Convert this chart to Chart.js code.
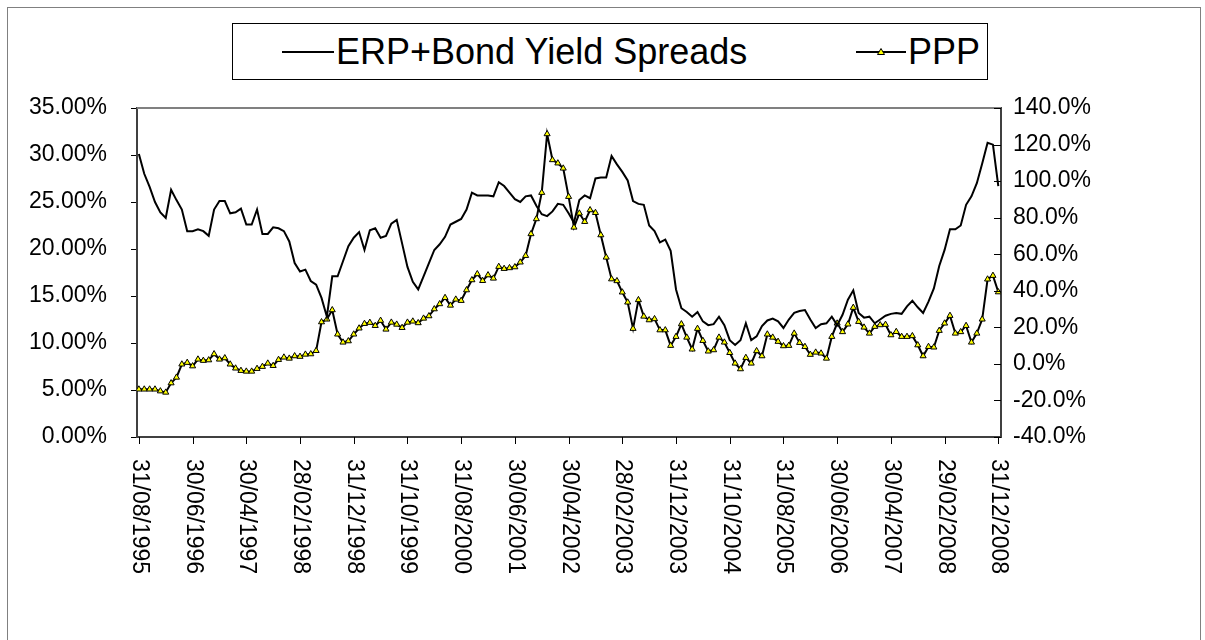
<!DOCTYPE html>
<html>
<head>
<meta charset="utf-8">
<script src="https://cdn.jsdelivr.net/npm/chart.js@4.4.1/dist/chart.umd.min.js"></script>
<style>
  html, body { margin: 0; padding: 0; background: #fff; }
  body { width: 1205px; height: 640px; position: relative; overflow: hidden; font-family: "Liberation Sans", Arial, sans-serif; }
  #frame { position: absolute; left: 7px; top: 7px; width: 1192px; height: 660px; border: 1px solid #808080; }
  #chart { position: absolute; left: 0; top: 0; }
  #legend { position: absolute; left: 232px; top: 23px; width: 754px; height: 55px; border: 1px solid #000; background: #fff; }
  .item { position: absolute; top: 0; height: 55px; display: flex; align-items: center; font-size: 36px; color: #000; white-space: nowrap; }
</style>
</head>
<body>
<div id="frame"></div>
<canvas id="chart" width="1205" height="640"></canvas>
<div id="legend">
  <div class="item" style="left:49px">
    <svg width="52" height="10"><line x1="0" y1="5" x2="52" y2="5" stroke="#000" stroke-width="2"/></svg>
    <span style="margin-left:2px">ERP+Bond Yield Spreads</span>
  </div>
  <div class="item" style="left:623px">
    <svg width="50" height="10"><line x1="0" y1="5" x2="50" y2="5" stroke="#000" stroke-width="2"/><polygon points="25,1.5 28.5,7.5 21.5,7.5" fill="#ffff00" stroke="#000" stroke-width="1"/></svg>
    <span style="margin-left:2px">PPP</span>
  </div>
</div>
<script>
// monthly, 31/08/1995 .. 31/12/2008
const tickLabels = ['31/08/1995', '30/06/1996', '30/04/1997', '28/02/1998', '31/12/1998', '31/10/1999',
  '31/08/2000', '30/06/2001', '30/04/2002', '28/02/2003', '31/12/2003', '31/10/2004',
  '31/08/2005', '30/06/2006', '30/04/2007', '29/02/2008', '31/12/2008'];

// ERP + bond yield spreads, % (left axis)
const erpSpread = [
  30.1, 28.0, 26.6, 25.0, 23.9, 23.3, 26.3, 25.2, 24.2, 21.9, 21.9, 22.1, 21.9, 21.4, 24.2, 25.1, 25.1, 23.8, 23.9, 24.3,
  22.6, 22.6, 24.2, 21.6, 21.6, 22.3, 22.2, 21.9, 20.8, 18.5, 17.6, 17.8, 16.6, 16.2, 14.8, 12.8, 17.1, 17.1, 18.7, 20.3,
  21.2, 21.8, 19.9, 22.0, 22.2, 21.2, 21.4, 22.7, 23.1, 20.6, 18.1, 16.5, 15.7, 17.1, 18.5, 19.9, 20.5, 21.3, 22.6, 22.9,
  23.2, 24.2, 26.0, 25.7, 25.7, 25.7, 25.6, 27.1, 26.7, 26.0, 25.3, 25.0, 25.6, 25.7, 24.6, 23.7, 23.5, 24.0, 24.8, 24.7,
  23.8, 22.8, 25.2, 25.7, 25.4, 27.5, 27.6, 27.6, 29.9, 29.0, 28.2, 27.3, 25.1, 24.8, 24.7, 22.5, 21.9, 20.7, 21.0, 19.8,
  15.7, 13.7, 13.3, 12.8, 13.3, 12.3, 11.9, 12.0, 12.8, 11.9, 10.3, 9.8, 10.3, 12.1, 10.3, 10.7, 11.8, 12.4, 12.6, 12.3,
  11.6, 12.5, 13.2, 13.4, 13.5, 12.5, 11.6, 12.0, 12.1, 12.8, 11.9, 13.0, 14.6, 15.6, 13.2, 12.7, 12.8, 12.1, 12.5, 12.9,
  13.1, 13.2, 13.1, 13.9, 14.5, 13.8, 13.2, 14.4, 15.8, 18.2, 19.9, 22.1, 22.1, 22.5, 24.7, 25.6, 27.0, 29.1, 31.3, 31.1,
  26.7
];

// PPP, % (right axis)
const ppp = [
  -13.9, -13.9, -13.9, -13.9, -14.9, -15.6, -10.5, -7.4, -0.2, 0.7, -1.2, 2.5, 1.8, 2.1, 5.4, 2.5, 3.2, -0.2, -2.4, -3.7,
  -4.1, -4.1, -2.6, -1.5, 0.3, -1.0, 2.3, 3.6, 3.0, 4.3, 4.0, 5.2, 5.4, 7.2, 22.9, 24.4, 29.5, 16.2, 11.8, 12.5,
  16.2, 19.5, 22.0, 22.6, 20.9, 23.7, 18.9, 22.7, 21.6, 19.8, 22.7, 23.3, 22.4, 24.9, 26.2, 30.0, 32.8, 36.2, 32.0, 35.3,
  34.6, 40.4, 45.9, 49.2, 45.5, 48.6, 46.8, 53.2, 52.1, 52.5, 53.0, 55.6, 59.2, 71.1, 79.3, 93.7, 125.8, 111.6, 109.8, 107.0,
  91.5, 74.7, 82.4, 77.8, 84.2, 82.7, 70.5, 58.3, 46.4, 45.4, 39.2, 33.7, 19.3, 35.0, 26.0, 24.0, 24.6, 18.5, 18.5, 10.0,
  14.9, 21.8, 14.5, 8.0, 19.3, 12.7, 6.9, 7.6, 14.5, 11.8, 6.1, 0.3, -2.8, 3.4, 0.3, 7.1, 4.3, 16.2, 14.5, 12.2,
  9.8, 10.0, 16.7, 11.6, 9.4, 5.1, 6.3, 5.8, 3.0, 14.9, 22.2, 17.5, 21.7, 30.8, 23.1, 20.0, 16.7, 20.4, 21.3, 21.5,
  15.8, 17.6, 14.9, 14.9, 15.3, 10.3, 4.3, 9.4, 9.1, 18.2, 22.2, 26.4, 16.7, 17.5, 20.9, 11.8, 16.7, 24.4, 46.3, 48.3,
  39.3
];

const FONT = 'Liberation Sans';

// ticks/labels that Chart.js can't do the Excel way (clockwise labels, inward ticks)
const axisDecor = {
  id: 'axisDecor',
  afterDraw(chart) {
    const { ctx, chartArea: a, scales } = chart;
    ctx.save();
    ctx.strokeStyle = '#808080';
    ctx.lineWidth = 2;
    ctx.beginPath();
    ctx.moveTo(a.left, a.top);
    ctx.lineTo(a.right, a.top);
    ctx.stroke();

    ctx.strokeStyle = '#000';
    ctx.lineWidth = 1;
    scales.y1.ticks.forEach(t => {
      const y = Math.round(scales.y1.getPixelForValue(t.value)) + 0.5;
      ctx.beginPath();
      ctx.moveTo(a.right - 7, y);
      ctx.lineTo(a.right, y);
      ctx.stroke();
    });

    ctx.font = '23px "' + FONT + '"';
    ctx.fillStyle = '#000';
    ctx.textAlign = 'left';
    ctx.textBaseline = 'middle';
    tickLabels.forEach((lab, k) => {
      const x = Math.round(scales.x.getPixelForValue(k * 10)) + 0.5;
      ctx.beginPath();
      ctx.moveTo(x, a.bottom);
      ctx.lineTo(x, a.bottom + 7);
      ctx.stroke();
      ctx.save();
      ctx.translate(x, a.bottom + 22);
      ctx.rotate(Math.PI / 2);
      ctx.fillText(lab, 0, 0);
      ctx.restore();
    });
    ctx.restore();
  }
};

new Chart(document.getElementById('chart'), {
  type: 'line',
  data: {
    datasets: [
      {
        label: 'ERP+Bond Yield Spreads',
        data: erpSpread.map((v, i) => ({ x: i, y: v })),
        yAxisID: 'y',
        borderColor: '#000',
        borderWidth: 2,
        pointRadius: 0,
        tension: 0
      },
      {
        label: 'PPP',
        data: ppp.map((v, i) => ({ x: i, y: v })),
        yAxisID: 'y1',
        borderColor: '#000',
        borderWidth: 2,
        pointStyle: 'triangle',
        pointRadius: 3.5,
        pointBackgroundColor: '#ffff00',
        pointBorderColor: '#000',
        pointBorderWidth: 1,
        tension: 0
      }
    ]
  },
  options: {
    responsive: false,
    animation: false,
    layout: { padding: { left: 7, top: 108, right: 0, bottom: 0 } },
    plugins: { legend: { display: false }, tooltip: { enabled: false } },
    scales: {
      x: {
        type: 'linear',
        min: -0.35,
        max: 160.5,
        grid: { display: false, drawTicks: false },
        ticks: { display: false },
        border: { color: '#404040', width: 2 },
        afterFit: s => { s.height = 203; }
      },
      y: {
        position: 'left',
        min: 0,
        max: 35,
        ticks: {
          stepSize: 5,
          callback: v => v.toFixed(2) + '%',
          font: { family: FONT, size: 23 },
          color: '#000',
          padding: 24
        },
        grid: { drawOnChartArea: false, color: '#000', tickLength: 6 },
        border: { color: '#404040', width: 2 },
        afterFit: s => { s.width = 130; }
      },
      y1: {
        position: 'right',
        min: -40,
        max: 140,
        ticks: {
          stepSize: 20,
          callback: v => v.toFixed(1) + '%',
          font: { family: FONT, size: 23 },
          color: '#000',
          padding: 12
        },
        grid: { display: false, drawTicks: false },
        border: { color: '#404040', width: 2 },
        afterFit: s => { s.width = 204; }
      }
    }
  },
  plugins: [axisDecor]
});
</script>
</body>
</html>
